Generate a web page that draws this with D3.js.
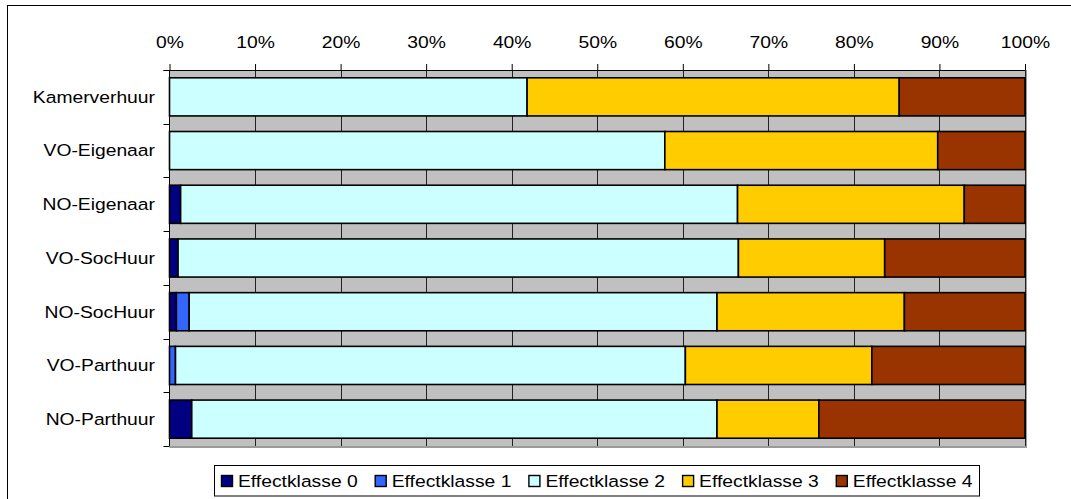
<!DOCTYPE html>
<html>
<head>
<meta charset="utf-8">
<script src="https://cdn.jsdelivr.net/npm/d3@7"></script>
<style>
  html, body { margin: 0; padding: 0; background: #fff; }
  svg { display: block; }
  text { font-family: "Liberation Sans", Arial, sans-serif; fill: #000; }
</style>
</head>
<body>
<svg id="chart" width="1071" height="499"></svg>
<script>
// Housing categories, top to bottom
const categories = ["Kamerverhuur", "VO-Eigenaar", "NO-Eigenaar", "VO-SocHuur", "NO-SocHuur", "VO-Parthuur", "NO-Parthuur"];

// Share (%) of each effect class per category
const klasse0 = [0, 0, 1.3, 1.0, 0.8, 0, 2.6];
const klasse1 = [0, 0, 0, 0, 1.5, 0.7, 0];
const klasse2 = [41.8, 57.9, 65.1, 65.5, 61.7, 59.6, 61.4];
const klasse3 = [43.5, 31.9, 26.5, 17.1, 21.9, 21.8, 11.9];
const klasse4 = [14.7, 10.2, 7.1, 16.4, 14.1, 17.9, 24.1];

const seriesNames = ["Effectklasse 0", "Effectklasse 1", "Effectklasse 2", "Effectklasse 3", "Effectklasse 4"];
const seriesColors = ["#000080", "#3366FF", "#CCFFFF", "#FFCC00", "#993300"];
const tickValues = [0, 10, 20, 30, 40, 50, 60, 70, 80, 90, 100];

const seriesValues = [klasse0, klasse1, klasse2, klasse3, klasse4];
const rows = categories.map((c, i) => {
  const r = { cat: c };
  seriesNames.forEach((s, k) => { r[s] = seriesValues[k][i]; });
  return r;
});

const svg = d3.select("#chart");
const plot = { left: 169.5, right: 1025, top: 70, bottom: 446 };
const STRETCH = 1.17; // wide type
const FONT = 16.5;

const x = d3.scaleLinear().domain([0, 100]).range([plot.left, plot.right]);
const y = d3.scaleBand().domain(categories).range([plot.top, plot.bottom]).paddingInner(0.29).paddingOuter(0.145);

// outer frame
svg.append("rect").attr("x", 7.5).attr("y", 5.5).attr("width", 1200).attr("height", 600)
  .attr("fill", "none").attr("stroke", "#000").attr("stroke-width", 1);

// plot background
svg.append("rect").attr("x", plot.left).attr("y", plot.top)
  .attr("width", plot.right - plot.left).attr("height", plot.bottom - plot.top)
  .attr("fill", "#C0C0C0");
// plot edge shade
svg.append("path")
  .attr("d", `M${plot.right + 1},${plot.top} V${plot.bottom + 1} H${plot.left}`)
  .attr("fill", "none").attr("stroke", "#9a9a9a").attr("stroke-width", 2);

// vertical gridlines
svg.append("g").selectAll("line").data(tickValues.slice(1)).join("line")
  .attr("x1", d => Math.round(x(d)) + 0.5).attr("x2", d => Math.round(x(d)) + 0.5)
  .attr("y1", plot.top).attr("y2", plot.bottom)
  .attr("stroke", "#222").attr("stroke-width", 1);

// stacked bars
const stack = d3.stack().keys(seriesNames)(rows);
const color = d3.scaleOrdinal().domain(seriesNames).range(seriesColors);
svg.append("g").selectAll("g").data(stack).join("g")
  .attr("fill", d => color(d.key))
  .selectAll("rect").data(d => d.filter(p => p[1] - p[0] > 0)).join("rect")
  .attr("x", p => x(p[0]))
  .attr("width", p => x(p[1]) - x(p[0]))
  .attr("y", p => y(p.data.cat))
  .attr("height", y.bandwidth())
  .attr("stroke", "#000").attr("stroke-width", 1.6);

// top axis
const xAxis = d3.axisTop(x).tickValues(tickValues).tickFormat(d => d + "%").tickSize(6).tickPadding(16);
const gx = svg.append("g").attr("transform", `translate(0,${plot.top})`).call(xAxis);
gx.select(".domain").attr("d", `M${plot.left - 6},0.5H${plot.right}`).attr("stroke", "#000");
gx.selectAll(".tick line").attr("stroke", "#000");
gx.selectAll(".tick text").each(function() {
  const t = d3.select(this);
  const yy = +t.attr("y");
  t.attr("y", null).attr("dy", null)
   .attr("transform", `translate(0,${yy}) scale(${STRETCH},1)`)
   .attr("font-size", FONT).attr("font-family", null).attr("text-anchor", "middle");
});
gx.attr("font-family", null).attr("font-size", null);

// left axis
const ticksY = categories.map(c => y(c) - y.step() * y.paddingInner() / 2).concat([plot.bottom]);
const gy = svg.append("g");
gy.append("line").attr("x1", plot.left).attr("x2", plot.left).attr("y1", plot.top).attr("y2", plot.bottom)
  .attr("stroke", "#000");
gy.selectAll("line.tk").data(ticksY).join("line").attr("class", "tk")
  .attr("x1", plot.left - 6).attr("x2", plot.left)
  .attr("y1", d => Math.round(d) + 0.5).attr("y2", d => Math.round(d) + 0.5)
  .attr("stroke", "#000");
gy.selectAll("text").data(categories).join("text")
  .attr("transform", d => `translate(155,${y(d) + y.bandwidth() / 2}) scale(${STRETCH},1)`)
  .attr("text-anchor", "end").attr("dy", "0.35em").attr("font-size", FONT)
  .text(d => d);

// legend
const lg = svg.append("g");
lg.append("rect").attr("x", 214.5).attr("y", 465.5).attr("width", 765).attr("height", 30.5)
  .attr("fill", "#fff").attr("stroke", "#000");
let lx = 221;
const ly = 481;
seriesNames.forEach((name, i) => {
  lg.append("rect").attr("x", lx + 0.5).attr("y", ly - 5.5).attr("width", 11).attr("height", 11)
    .attr("fill", seriesColors[i]).attr("stroke", "#000").attr("stroke-width", 1.4);
  const t = lg.append("text").attr("transform", `translate(${lx + 17},${ly}) scale(${STRETCH},1)`)
    .attr("dy", "0.35em").attr("font-size", FONT).text(name);
  const w = t.node().getComputedTextLength() * STRETCH;
  lx += 17 + w + 17;
});
</script>
</body>
</html>
